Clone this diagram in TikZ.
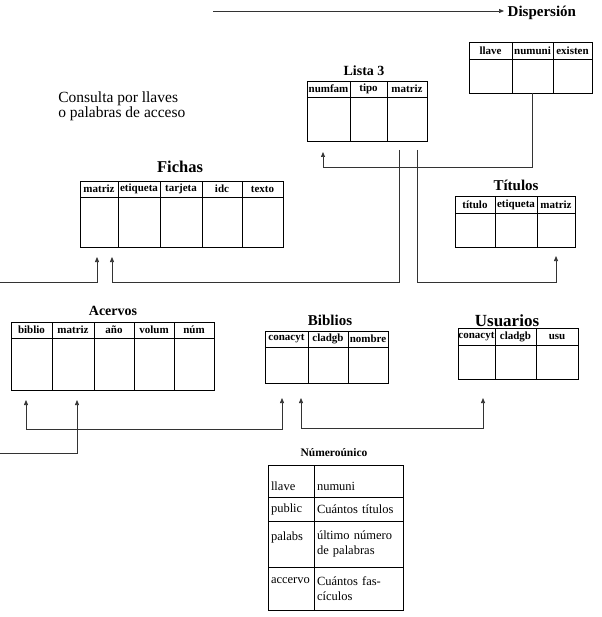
\documentclass[tikz,border=0pt]{standalone}
\usepackage{fontspec}
\setmainfont{Liberation Serif}
\usetikzlibrary{positioning,arrows.meta}

\begin{document}
\begin{tikzpicture}[x=1pt,y=-1pt,line width=0.7pt,
	hd/.style={draw,inner sep=0pt,outer sep=0pt,minimum height=16,font=\fontsize{11}{13}\selectfont\bfseries},
	bd/.style={draw,inner sep=0pt,outer sep=0pt},
	ttl/.style={font=\fontsize{15}{18}\selectfont\bfseries},
	nu/.style={draw,inner xsep=3pt,outer sep=0pt,align=left,font=\fontsize{12.5}{15}\selectfont},
	arr/.style={black!80,-{Triangle[length=5pt,width=4pt]}},
	arrs/.style={black!80,{Triangle[length=5pt,width=4pt]}-{Triangle[length=5pt,width=4pt]}}]
\useasboundingbox (0,0) rectangle (601,617);

% Dispersion
\node[ttl,anchor=west] (D0) at (504,13) {Dispersión};
\coordinate (c0) at (213,11);
\draw[arr] (c0) -- (c0 -| D0.west);
\node[hd,minimum width=43,minimum height=17,anchor=north west] (D1) at (469,42) {llave};
\node[hd,minimum width=41,minimum height=17,right=0pt of D1] (D2) {numuni};
\node[hd,minimum width=39,minimum height=17,right=0pt of D2] (D3) {existen};
\node[bd,minimum width=43,minimum height=34,below=0pt of D1] (D4) {};
\node[bd,minimum width=41,minimum height=34,below=0pt of D2] (D5) {};
\node[bd,minimum width=39,minimum height=34,below=0pt of D3] (D6) {};

% Lista 3
\node[ttl,font=\fontsize{14}{17}\selectfont\bfseries] (L0) at (364,71) {Lista 3};
\node[hd,minimum width=43,anchor=north west] (L1) at (307,81) {numfam};
\node[hd,minimum width=37,right=0pt of L1] (L2) {tipo};
\node[hd,minimum width=40,right=0pt of L2] (L3) {matriz};
\node[bd,minimum width=43,minimum height=44,below=0pt of L1] (L4) {};
\node[bd,minimum width=37,minimum height=44,below=0pt of L2] (L5) {};
\node[bd,minimum width=40,minimum height=44,below=0pt of L3] (L6) {};

\node[anchor=north west,align=left,inner sep=0pt,font=\fontsize{15.5}{13}\selectfont] (Q) at (58,91) {Consulta por llaves\\o palabras de acceso};

% Fichas
\node[ttl,font=\fontsize{16.5}{19}\selectfont\bfseries] (F0) at (180,167) {Fichas};
\node[hd,minimum width=38,anchor=north west] (F1) at (80,181) {matriz};
\node[hd,minimum width=42,right=0pt of F1] (F2) {etiqueta};
\node[hd,minimum width=42,right=0pt of F2] (F3) {tarjeta};
\node[hd,minimum width=40,right=0pt of F3] (F4) {idc};
\node[hd,minimum width=41,right=0pt of F4] (F5) {texto};
\node[bd,minimum width=38,minimum height=50,below=0pt of F1] (F6) {};
\node[bd,minimum width=42,minimum height=50,below=0pt of F2] (F7) {};
\node[bd,minimum width=42,minimum height=50,below=0pt of F3] (F8) {};
\node[bd,minimum width=40,minimum height=50,below=0pt of F4] (F9) {};
\node[bd,minimum width=41,minimum height=50,below=0pt of F5] (F10) {};

% Titulos
\node[ttl] (T0) at (516,185) {Títulos};
\node[hd,minimum width=40,minimum height=17,anchor=north west] (T1) at (455,196) {título};
\node[hd,minimum width=42,minimum height=17,right=0pt of T1] (T2) {etiqueta};
\node[hd,minimum width=38,minimum height=17,right=0pt of T2] (T3) {matriz};
\node[bd,minimum width=40,minimum height=34,below=0pt of T1] (T4) {};
\node[bd,minimum width=42,minimum height=34,below=0pt of T2] (T5) {};
\node[bd,minimum width=38,minimum height=34,below=0pt of T3] (T6) {};

% Acervos
\node[ttl,font=\fontsize{14}{17}\selectfont\bfseries] (A0) at (113,311) {Acervos};
\node[hd,minimum width=41,anchor=north west] (A1) at (11,322) {biblio};
\node[hd,minimum width=42,right=0pt of A1] (A2) {matriz};
\node[hd,minimum width=40,right=0pt of A2] (A3) {año};
\node[hd,minimum width=40,right=0pt of A3] (A4) {volum};
\node[hd,minimum width=40,right=0pt of A4] (A5) {núm};
\node[bd,minimum width=41,minimum height=52,below=0pt of A1] (A6) {};
\node[bd,minimum width=42,minimum height=52,below=0pt of A2] (A7) {};
\node[bd,minimum width=40,minimum height=52,below=0pt of A3] (A8) {};
\node[bd,minimum width=40,minimum height=52,below=0pt of A4] (A9) {};
\node[bd,minimum width=40,minimum height=52,below=0pt of A5] (A10) {};

% Biblios
\node[ttl] (B0) at (330,320) {Biblios};
\node[hd,minimum width=43,anchor=north west] (B1) at (265,331) {conacyt};
\node[hd,minimum width=40,right=0pt of B1] (B2) {cladgb};
\node[hd,minimum width=40,right=0pt of B2] (B3) {nombre};
\node[bd,minimum width=43,minimum height=36,below=0pt of B1] (B4) {};
\node[bd,minimum width=40,minimum height=36,below=0pt of B2] (B5) {};
\node[bd,minimum width=40,minimum height=36,below=0pt of B3] (B6) {};

% Usuarios
\node[ttl,font=\fontsize{17}{20}\selectfont\bfseries,anchor=base,inner sep=0pt] (U0) at (507,326) {Usuarios};
\node[hd,minimum width=37,minimum height=17,anchor=north west] (U1) at (458,328) {conacyt};
\node[hd,minimum width=41,minimum height=17,right=0pt of U1] (U2) {cladgb};
\node[hd,minimum width=42,minimum height=17,right=0pt of U2] (U3) {usu};
\node[bd,minimum width=37,minimum height=34,below=0pt of U1] (U4) {};
\node[bd,minimum width=41,minimum height=34,below=0pt of U2] (U5) {};
\node[bd,minimum width=42,minimum height=34,below=0pt of U3] (U6) {};

% Numerounico
\node[ttl,font=\fontsize{11.5}{14}\selectfont\bfseries] (N0) at (334,453) {Númeroúnico};
\node[nu,text width=40,text height=20,minimum height=32,anchor=north west] (N1) at (268,465) {llave};
\node[nu,text width=83,text height=20,minimum height=32,right=0pt of N1] (N2) {numuni};
\node[nu,text width=40,minimum height=24,below=0pt of N1] (N3) {public};
\node[nu,text width=83,minimum height=24,below=0pt of N2] (N4) {Cuántos títulos};
\node[nu,text width=40,minimum height=46,below=0pt of N3] (N5) {palabs\\\mbox{}};
\node[nu,text width=83,minimum height=46,below=0pt of N4] (N6) {último número\\de palabras};
\node[nu,text width=40,minimum height=43,below=0pt of N5] (N7) {accervo\\\mbox{}};
\node[nu,text width=83,minimum height=43,below=0pt of N6] (N8) {Cuántos fas-\\cículos};

% enlaces
\coordinate (c1) at (323,152);
\draw[arr] (D5.south) -- ++(0,74) -| (c1);
\coordinate (c2) at (399,150);
\coordinate (c3) at (112,257);
\coordinate (c4) at (0,282);
\coordinate (c5) at (97,257);
\coordinate (c6) at (417,150);
\coordinate (c7) at (556,256);
\draw[arr] (c4) -| (c5);
\draw[arr] (c2) -- (c2 |- c4) -| (c3);
\draw[arr] (c6) -- (c6 |- c4) -| (c7);
\coordinate (c8) at (26,400);
\coordinate (c9) at (282,398);
\draw[arrs] (c8) -- ++(0,29) -| (c9);
\coordinate (c10) at (0,453);
\coordinate (c11) at (77,400);
\draw[arr] (c10) -| (c11);
\coordinate (c12) at (301,398);
\coordinate (c13) at (483,398);
\draw[arrs] (c12) -- ++(0,30) -| (c13);
\end{tikzpicture}
\end{document}
